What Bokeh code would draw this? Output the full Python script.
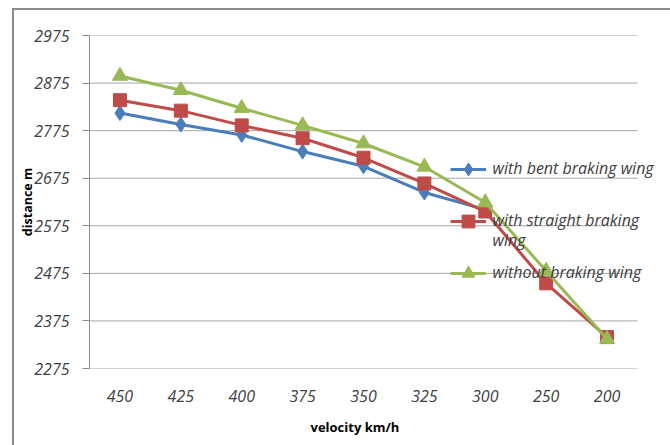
import math
from bokeh.plotting import figure
from bokeh.models import FixedTicker, Legend, LegendItem, Label, Range1d, Title
from bokeh.embed import file_html
from bokeh.resources import INLINE

velocity = ["450", "425", "400", "375", "350", "325", "300", "250", "200"]
bent = [2812, 2788, 2766, 2731, 2700, 2645, 2609, math.nan, math.nan]
straight = [2839, 2817, 2786, 2759, 2718, 2664, 2605, 2454, 2341]
without = [2890, 2860, 2822, 2786, 2748, 2699, 2624, 2480, 2337]
y_ticks = [2275, 2375, 2475, 2575, 2675, 2775, 2875, 2975]
series_names = ["with bent braking wing", "with straight braking\nwing", "without braking wing"]
x_title = "velocity km/h"
y_title = "distance m"

BLUE = "#4a7ebb"
RED = "#be4b48"
GREEN = "#98b954"
GRID = "#a6a6a6"
FONT = "Open Sans"

xpos = list(range(len(velocity)))
n = len(velocity)
# frame runs to the canvas edge so that the legend text is not clipped;
# categories occupy [-0.5, n-0.5] (548 px), the extra span is the empty right margin
px_per_cat = 548 / n
frame_w = 583
x_end = -0.5 + frame_w / px_per_cat

p = figure(width=658, height=437, x_range=Range1d(-0.5, x_end), y_range=(2275, 2975),
           output_backend="svg", toolbar_location=None,
           min_border_left=75, min_border_right=0, min_border_top=25, min_border_bottom=79)
p.margin = (8, 0, 0, 12)
p.styles = {"border-top": "2px solid #8c8c8c", "border-left": "2px solid #8c8c8c"}
p.outline_line_color = None
p.background_fill_color = "white"
p.border_fill_color = "white"

p.xgrid.grid_line_color = None
p.ygrid.grid_line_color = None
p.yaxis.ticker = FixedTicker(ticks=y_ticks)
p.xaxis.ticker = FixedTicker(ticks=xpos)
p.xaxis.major_label_overrides = {i: v for i, v in zip(xpos, velocity)}

# horizontal gridlines over the category span only
p.segment(x0=[-0.5] * len(y_ticks), x1=[n - 0.5] * len(y_ticks), y0=y_ticks, y1=y_ticks,
          line_color=GRID, line_width=1)

for ax in (p.xaxis, p.yaxis):
    ax.major_label_text_font = FONT
    ax.major_label_text_font_style = "italic"
    ax.major_label_text_font_size = "16px"
    ax.major_label_text_color = "#404040"
    ax.axis_label_text_font = FONT
    ax.axis_label_text_font_style = "bold"
    ax.axis_label_text_color = "black"
    ax.minor_tick_line_color = None

p.yaxis.axis_line_color = "#8c8c8c"
p.yaxis.major_tick_out = 7
p.yaxis.major_tick_in = 0
p.yaxis.major_tick_line_color = "#8c8c8c"
p.yaxis.major_label_standoff = 13
p.yaxis.axis_label = y_title
p.yaxis.axis_label_text_font_size = "12.5px"
p.yaxis.axis_label_standoff = -5

p.xaxis.axis_line_color = None
p.xaxis.major_tick_line_color = None
p.xaxis.major_tick_out = 0
p.xaxis.major_tick_in = 0
p.xaxis.major_label_standoff = 21

p.add_layout(Title(text=x_title, align="left", offset=221, standoff=22,
                   text_font=FONT, text_font_style="bold", text_font_size="13px",
                   text_color="black"), "below")

r_bl = p.line(xpos, bent, line_width=3, color=BLUE)
r_bm = p.scatter(xpos, bent, marker="diamond", size=15, color=BLUE)
r_rl = p.line(xpos, straight, line_width=3, color=RED)
r_rm = p.scatter(xpos, straight, marker="square", size=13, color=RED)
r_gl = p.line(xpos, without, line_width=3, color=GREEN)
r_gm = p.scatter(xpos, without, marker="triangle", size=15, color=GREEN)

entries = [
    (series_names[0], [r_bl, r_bm], (361, 183), 155),
    (series_names[1], [r_rl, r_rm], (361, 131), 207),
    (series_names[2], [r_gl, r_gm], (361, 79), 259),
]
for label, rs, loc, ty in entries:
    leg = Legend(items=[LegendItem(label=" ", renderers=rs)], location=loc,
                 padding=0, margin=0, spacing=0, glyph_width=36, glyph_height=32,
                 label_height=32, label_width=1, label_standoff=0,
                 label_text_font_size="1px",
                 background_fill_alpha=0, border_line_alpha=0)
    p.add_layout(leg)
    for k, line in enumerate(label.split("\n")):
        p.add_layout(Label(x=476, y=ty + 20 * k, x_units="canvas", y_units="canvas", text=line,
                           text_font=FONT, text_font_style="italic", text_font_size="16px",
                           text_color="#404040", text_baseline="middle", text_align="left"))

open("out.html", "w").write(file_html(p, INLINE))
